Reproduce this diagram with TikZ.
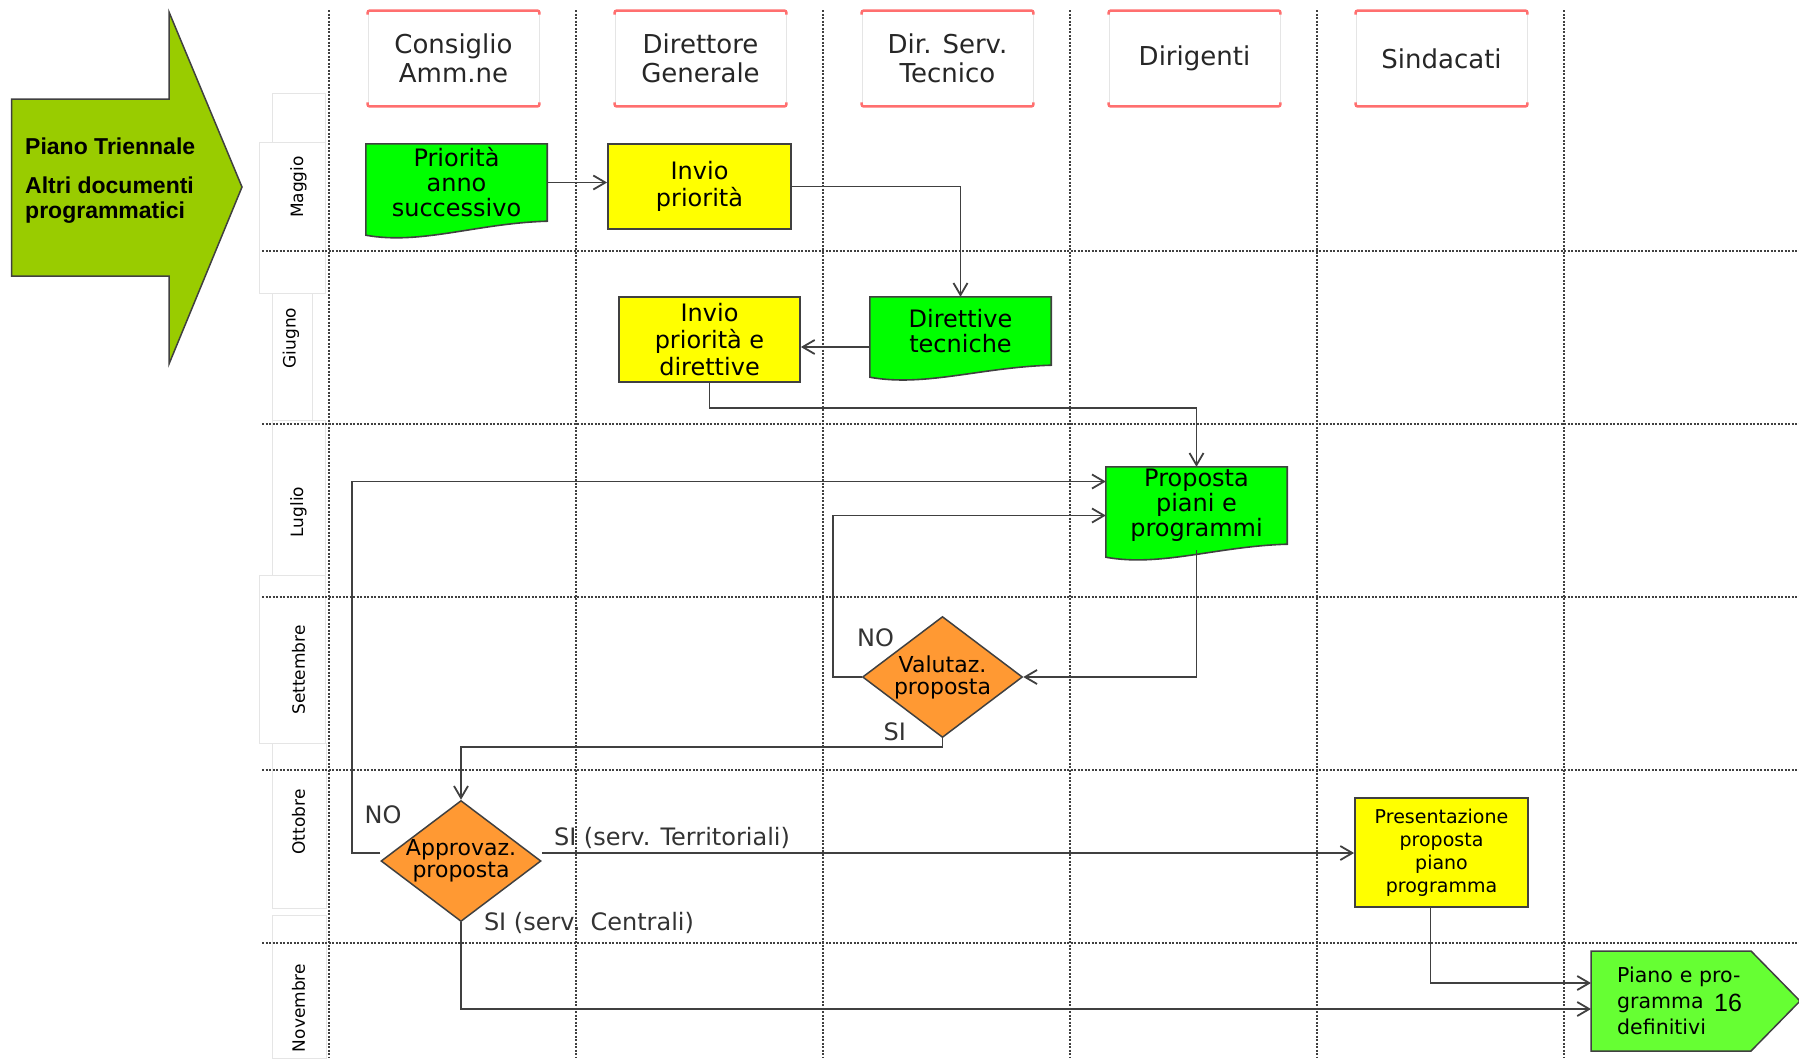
\documentclass[tikz,border=0pt]{standalone}
\usepackage{fontspec}
\setmainfont{DejaVu Sans}
\newfontfamily\arialfont{Liberation Sans}
\usetikzlibrary{shapes.geometric,arrows.meta,backgrounds}

\definecolor{docgreen}{HTML}{00FF00}
\definecolor{taskyellow}{HTML}{FFFF00}
\definecolor{decorange}{HTML}{FF9933}
\definecolor{endgreen}{HTML}{66FF33}
\definecolor{bigarrow}{HTML}{99CC00}
\definecolor{headred}{HTML}{FF6F6F}
\definecolor{linegray}{HTML}{404040}

\begin{document}
\begin{tikzpicture}[x=1pt,y=-1pt,
    lane/.style={linegray, line width=1.5pt, dash pattern=on 2pt off 1.5pt},
    flow/.style={linegray, line width=1.8pt, -{Straight Barb[length=12pt,width=14pt]}},
    header/.style={draw=gray!20, line width=0.8pt, minimum width=171, minimum height=95, align=center, text=black!85, font=\fontsize{26}{29}\selectfont},
    headline/.style={headred, line width=2.5pt, rounded corners=2pt},
    task/.style={draw=linegray, line width=1.8pt, fill=taskyellow, inner sep=2pt, align=center, font=\fontsize{24}{27}\selectfont},
    doc/.style={minimum width=181, inner sep=0pt, align=center, font=\fontsize{24}{25}\selectfont},
    docfill/.style={draw=linegray, line width=1.6pt, fill=docgreen},
    decision/.style={diamond, aspect=1.33, draw=linegray, line width=1.5pt, fill=decorange, inner sep=-6pt, minimum width=160, minimum height=121, align=center, font=\fontsize{22}{22}\selectfont},
    tab/.style={draw=gray!20, line width=0.8pt, fill=white},
    month/.style={rotate=90, font=\fontsize{17}{17}\selectfont},
    tag/.style={text=black!80, font=\fontsize{24}{24}\selectfont}
  ]
  \useasboundingbox (0,0) rectangle (1799,1058);

  % month tabs
  \draw[tab] (272,93) rectangle (325,142);
  \draw[tab] (259,142) rectangle (325,293);
  \draw[tab] (272,293) rectangle (312,420);
  \draw[tab] (272,420) rectangle (325,575);
  \draw[tab] (259,575) rectangle (325,743);
  \draw[tab] (272,743) rectangle (326,908);
  \draw[tab] (272,915) rectangle (326,1058);
  \foreach \m/\x/\y in {Maggio/298.5/187, Giugno/291/338, Luglio/298.5/512,
      Settembre/298.5/670, Ottobre/298.5/822, Novembre/298.5/1008}
    \node[month] (m\m) at (\x,\y) {\m};

  % swimlane grid
  \foreach \x in {329,576,...,1564}
    \draw[lane] (\x,10) -- (\x,1058);
  \foreach \y in {251,424,...,943}
    \draw[lane] (262,\y) -- (1799,\y);

  % lane headers
  \foreach \name/\txt [count=\i from 0] in {hcons/{Consiglio\\Amm.ne}, hdirgen/{Direttore\\Generale},
      hdirtec/{Dir. Serv.\\Tecnico}, hdirig/Dirigenti, hsind/Sindacati} {
    \node[header] (\name) at (453.5+247*\i,58.5) {\txt};
    \draw[headline] ([yshift=-4pt]\name.north west) -- (\name.north west) -- (\name.north east) -- ([yshift=-4pt]\name.north east);
    \draw[headline] ([yshift=4pt]\name.south west) -- (\name.south west) -- (\name.south east) -- ([yshift=4pt]\name.south east);
  }

  % big input arrow
  \filldraw[fill=bigarrow, draw=linegray, line width=1.5pt]
    (11.5,99) -- (169,99) -- (169,12) -- (242,187) -- (169,364) -- (169,276) -- (11.5,276) -- cycle;
  \node[anchor=north west, inner sep=0pt, align=left, font=\arialfont\bfseries\fontsize{23}{25}\selectfont] (plan) at (25,138)
    {Piano Triennale\\[14pt]Altri documenti\\programmatici};

  % Maggio
  \node[doc, minimum height=77] (prior) at (456.5,182.5) {Priorità\\anno\\successivo};
  \node[task, minimum width=183, minimum height=85] (invio) at (699.5,186.5) {Invio\\priorità};
  % Giugno
  \node[doc, minimum height=68] (dirtec) at (960.5,331) {Direttive\\tecniche};
  \node[task, minimum width=181, minimum height=85] (invdir) at (709.5,339.5) {Invio\\priorità e\\direttive};
  % Luglio
  \node[doc, minimum height=77] (prop) at (1196.5,505.5) {Proposta\\piani e\\programmi};
  % Settembre / Ottobre
  \node[decision] (valut) at (942.5,677) {Valutaz.\\proposta};
  \node[decision] (appr) at (461,861) {Approvaz.\\proposta};
  \node[task, minimum width=173, minimum height=109, font=\fontsize{19}{23}\selectfont] (pres) at (1441.5,852.5)
    {Presentazione\\proposta\\piano\\programma};
  % Novembre
  \node[anchor=west, align=left, text width=140pt, inner xsep=26pt, inner ysep=0pt, font=\fontsize{20.5}{26}\selectfont] (final) at (1591,1001)
    {Piano e pro-\\gramma\\definitivi};
  \node[font=\arialfont\fontsize{25}{25}\selectfont] (pagenum) at (1728,1003) {16};

  \begin{scope}[on background layer]
    \foreach \d/\drop in {prior/14, dirtec/12, prop/13}
      \filldraw[docfill] (\d.north west) -- (\d.north east) -- (\d.south east)
        .. controls +(-70,2) and +(55,10) .. ([shift={(0,\drop)}]\d.south west) -- cycle;
    \filldraw[fill=endgreen, draw=linegray, line width=1.5pt]
      ([shift={(0,-50)}]final.west) -- ++(160,0) -- ++(49,50) -- ++(-49,50) -- ++(-160,0) -- cycle;
  \end{scope}

  % connectors
  \draw[flow] (prior.east) -- (prior.east -| invio.west);
  \draw[flow] (invio.east) -| (dirtec.north);
  \draw[flow] ([yshift=-16pt]dirtec.west) -- ([yshift=-16pt]dirtec.west -| invdir.east);
  \draw[flow] (invdir.south) -- ++(0,25) -| (prop.north);
  \draw[flow] ([yshift=-6pt]prop.south) |- (valut.east);
  \draw[flow] (valut.west) -- ++(-29,0) |- ([yshift=-10pt]prop.west);
  \draw[flow] (valut.south) -- ++(0,9) -| (appr.north);
  \draw[flow] ([yshift=8pt]appr.west) -- ++(-28,0) |- ([yshift=24pt]prop.west);
  \draw[flow] ([yshift=8pt]appr.east) -- ([yshift=8pt]appr.east -| pres.west);
  \draw[flow] (appr.south) |- ([yshift=-8pt]final.west);
  \draw[flow] ([xshift=-11pt]pres.south) |- ([yshift=18pt]final.west);

  % branch labels
  \node[tag] (novalut) at (875.5,638) {NO};
  \node[tag] (sivalut) at (894.7,732) {SI};
  \node[tag] (noappr) at (383,815) {NO};
  \node[tag] (siterr) at (672,838) {SI (serv. Territoriali)};
  \node[tag] (sicent) at (589,923) {SI (serv. Centrali)};
\end{tikzpicture}
\end{document}
